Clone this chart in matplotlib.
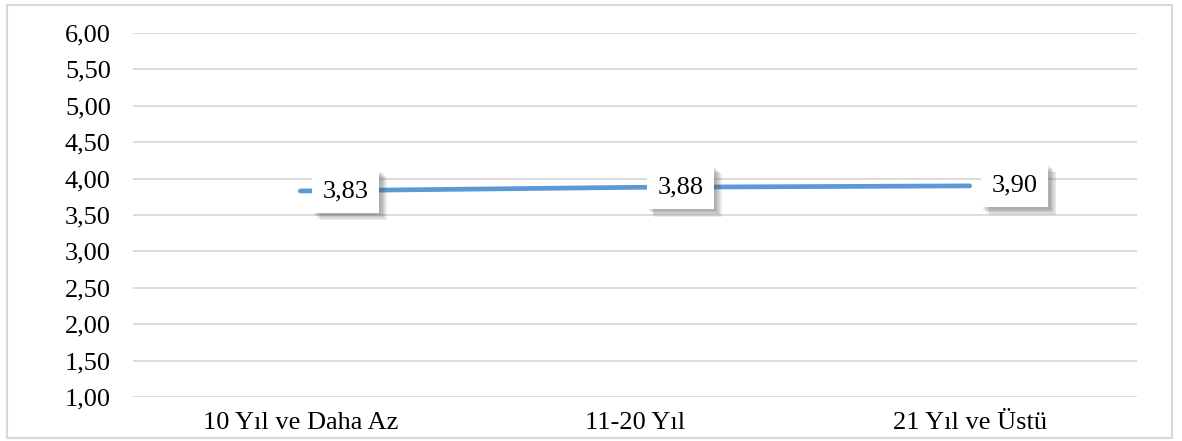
import matplotlib.pyplot as plt
import matplotlib.patheffects as pe
from matplotlib.patches import Rectangle

# donnees
categories = ["10 Yıl ve Daha Az", "11-20 Yıl", "21 Yıl ve Üstü"]
valeurs = [3.83, 3.88, 3.90]
etiquettes = ["3,83", "3,88", "3,90"]
yticks = [1.0, 1.5, 2.0, 2.5, 3.0, 3.5, 4.0, 4.5, 5.0, 5.5, 6.0]

plt.rcParams["font.family"] = ["Liberation Serif", "DejaVu Serif"]

fig = plt.figure(figsize=(11.82, 4.41), dpi=100)
ax = fig.add_axes([133 / 1182, 1 - 397 / 441, 1004 / 1182, 364 / 441])

x = list(range(len(categories)))
ax.plot(x, valeurs, color="#5B9BD5", linewidth=3.4, solid_capstyle="round", zorder=3)

# ombre douce : plusieurs couches decalees
ombre = [pe.SimplePatchShadow(offset=(d, -d), shadow_rgbFace="#505050", alpha=0.11)
         for d in (5.5, 4.5, 3.5, 2.5, 1.5)]

for xi, v, lab in zip(x, valeurs, etiquettes):
    ann = ax.annotate(lab, (xi, v), xytext=(16, 0), textcoords="offset points",
                      ha="left", va="center", fontsize=19, color="black", zorder=5,
                      bbox=dict(boxstyle="square,pad=0.4", fc="white", ec="none"))
    ann.get_bbox_patch().set_path_effects(ombre + [pe.Normal()])

ax.set_xlim(-0.5, len(categories) - 0.5)
ax.set_ylim(1, 6)
ax.set_yticks(yticks)
ax.set_yticklabels([f"{t:.2f}".replace(".", ",") for t in yticks])
ax.set_xticks(x)
ax.set_xticklabels(categories)
ax.tick_params(axis="y", length=0, pad=16, labelsize=19)
ax.tick_params(axis="x", length=0, pad=11, labelsize=19)
ax.grid(axis="y", color="#D9D9D9", linewidth=1.3)
ax.set_axisbelow(True)
for s in ax.spines.values():
    s.set_visible(False)

# cadre du graphique
fig.patches.append(Rectangle((7 / 1182, 3 / 441), 1165 / 1182, 433 / 441,
                             transform=fig.transFigure, fill=False,
                             edgecolor="#D9D9D9", linewidth=1.5))

fig.savefig("out.png", dpi=100)
